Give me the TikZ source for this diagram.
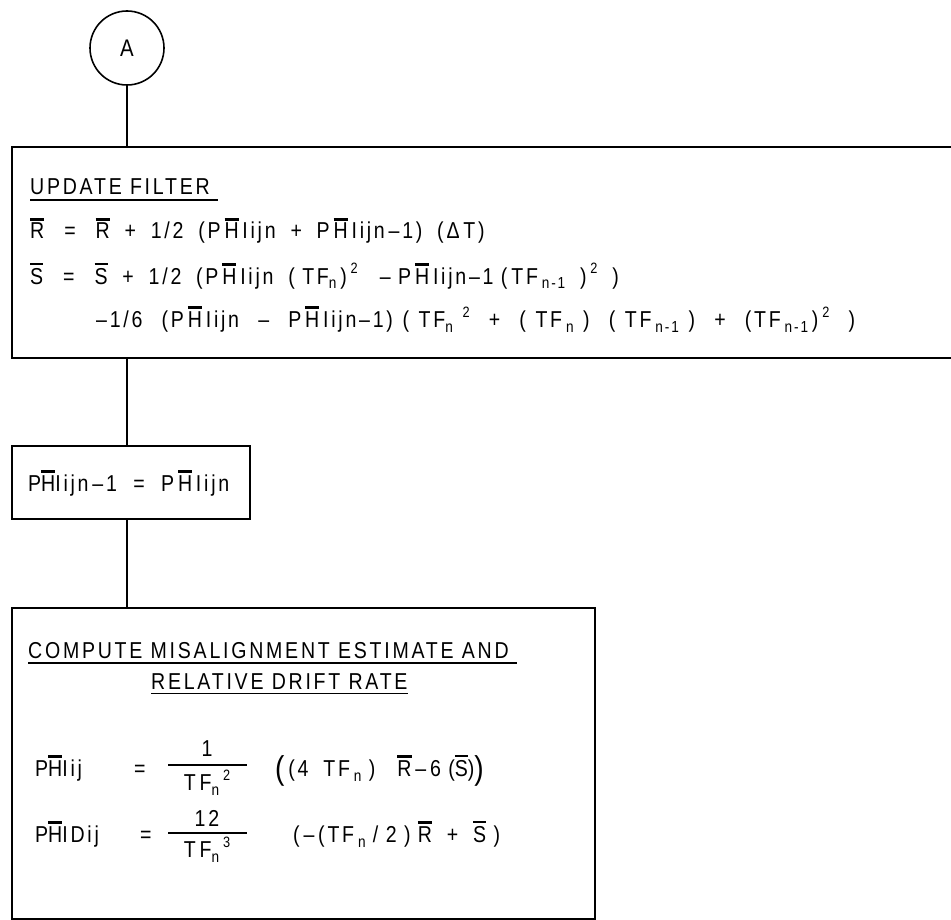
\documentclass[tikz,border=0pt]{standalone}
\usepackage{fontspec}
\setmainfont{Liberation Sans}[FakeStretch=0.85,LetterSpace=12]
\usetikzlibrary{positioning}

% bar over a letter, underlined heading, small indices
\newcommand\ob[1]{\vbox{\hrule height 2.4pt\kern 2.6pt\hbox{#1}}}
\newcommand\ulbar[1]{\vtop{\hbox{#1}\kern 3.5pt\hrule height 1.8pt}}
\newcommand\lo[1]{\raisebox{-5pt}{\fontsize{16}{16}\selectfont#1}}
\newcommand\hi[1]{\raisebox{10pt}{\fontsize{15}{15}\selectfont#1}}
\newcommand\bigp[1]{\raisebox{-3pt}{\fontsize{33}{33}\selectfont#1}}
\newcommand\wide{\spaceskip 7.4pt\relax}
\newcommand\wider{\spaceskip 9.6pt\relax}

\begin{document}
\begin{tikzpicture}[
    x=1pt, y=-1pt,
    box/.style={draw,line width=1.8pt,inner sep=0pt,anchor=north west},
    conn/.style={draw,circle,line width=1.6pt,minimum size=74pt,inner sep=0pt,
                 font=\fontsize{24}{28}\selectfont},
    txt/.style={anchor=base west,inner sep=0pt,font=\fontsize{23}{27}\selectfont},
    eqn/.style={txt,font=\fontsize{23}{27}\selectfont\wide},
    ctxt/.style={txt,anchor=base},
    link/.style={line width=1.6pt},
    fbar/.style={line width=2.6pt},
  ]
  \useasboundingbox (0,0) rectangle (951,920);

  % --- connector and the three boxes ---
  \node[conn] (conA) at (127,48) {A};
  \node[box,minimum width=1000pt,minimum height=211pt] (filter)   at (11,146) {};
  \node[box,minimum width=238pt, minimum height=73pt]  (shift)    at (11,445) {};
  \node[box,minimum width=583pt, minimum height=311pt] (estimate) at (11,607) {};

  % --- update filter ---
  \node[txt] (fhead) at (30,195) {\ulbar{UPDATE FILTER\ }};
  \node[eqn] (frbar) at (30,239)
    {\ob{R}\hspace{20pt}=\hspace{20pt}\ob{R}\ \ +\ \ 1/2\ \ (P\,\ob{H}\,Iijn\ \ +\ \ P\,\ob{H}\,Iijn\,–1)\ \ (Δ\,T)};
  \node[eqn] (fsbar) at (30,284)
    {\ob{S}\hspace{20pt}=\hspace{20pt}\ob{S}\ \ +\ \ 1/2\ \ (P\,\ob{H}\,Iijn\ \ (\ TF\lo{n}\,)\,\hi{2}\ \ \ –\ P\,\ob{H}\,Iijn–1\ (\,TF\,\lo{n-1}\ \ )\,\hi{2}\ \ )};
  \node[eqn,font=\fontsize{23}{27}\selectfont\wider] (fsrest) at (96,327)
    {–1/6\ \ (P\,\ob{H}\,Iijn\ \ –\ \ P\,\ob{H}\,Iijn–1)\ (\ TF\lo{n}\ \hi{2}\ \ +\ \ (\ TF\,\lo{n}\ )\ \ (\ TF\,\lo{n-1}\ )\ \ +\ \ (TF\,\lo{n-1}\,)\,\hi{2}\ \ )};

  % --- shift ---
  \node[txt] (stext) at (28,491) {P\ob{H}Iijn\,–1\ \ =\ \ P\,\ob{H}\,Iijn};

  % --- estimate ---
  \node[txt] (ehead1) at (28,658)  {\ulbar{COMPUTE MISALIGNMENT ESTIMATE AND\ }};
  \node[txt] (ehead2) at (151,689) {\ulbar{RELATIVE DRIFT RATE}};

  \node[txt]  (ephi)    at (35,776)  {P\ob{H}Iij};
  \node[txt]  (ephiEq)  at (134,776) {=};
  \node[ctxt] (ephiNum) at (207,756) {1};
  \node[ctxt] (ephiDen) at (207,790) {T\,F\lo{n}\,\hi{2}};
  \draw[fbar] (168,765) -- (247,765);
  \node[eqn]  (ephiRhs) at (275,776)
    {\bigp{(}\,(4\ \ TF\,\lo{n}\ )\ \ \ \ob{R}\,–\,6\ (\ob{S})\bigp{)}};

  \node[txt]  (edrift)    at (35,842)  {P\ob{H}IDij};
  \node[txt]  (edriftEq)  at (140,842) {=};
  \node[ctxt] (edriftNum) at (207,826) {12};
  \node[ctxt] (edriftDen) at (207,857) {T\,F\lo{n}\,\hi{3}};
  \draw[fbar] (168,833) -- (247,833);
  \node[eqn]  (edriftRhs) at (293,842)
    {(\,–\,(TF\,\lo{n}\ /\ 2\ )\ \ob{R}\ \ +\ \ \ob{S}\ )};

  % --- flow lines ---
  \draw[link] (conA) -- (conA |- filter.north);
  \draw[link] (conA |- filter.south) -- (conA |- shift.north);
  \draw[link] (conA |- shift.south) -- (conA |- estimate.north);
\end{tikzpicture}
\end{document}
